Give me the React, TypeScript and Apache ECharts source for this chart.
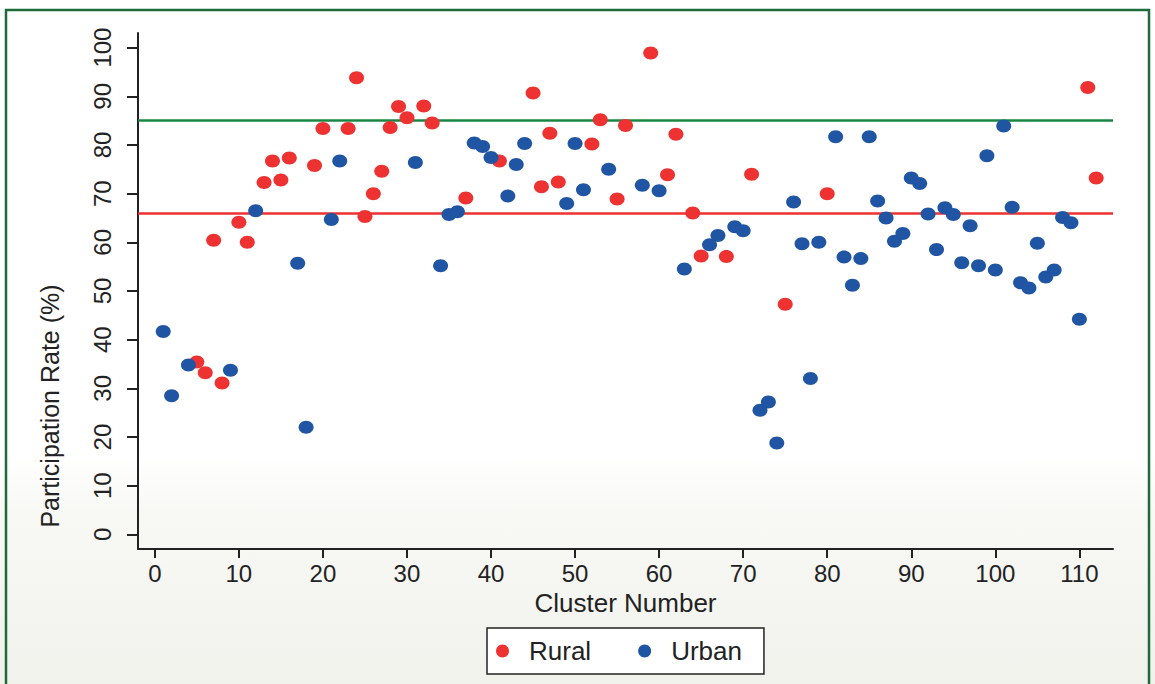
import React, { useEffect, useRef } from "react";
import * as echarts from "echarts";

// Participation rate (%) by cluster, split by rural / urban clusters
const ruralClusters = [5, 6, 7, 8, 10, 11, 13, 14, 15, 16, 19, 20, 23, 24, 25, 26, 27, 28, 29, 30, 32, 33, 37, 41, 45, 46, 47, 48, 52, 53, 55, 56, 59, 61, 62, 64, 65, 68, 71, 75, 80, 111, 112];
const ruralRates = [35.4, 33.2, 60.4, 31.1, 64.1, 60.0, 72.3, 76.7, 72.8, 77.3, 75.8, 83.4, 83.4, 93.8, 65.3, 70.0, 74.6, 83.6, 87.9, 85.6, 88.0, 84.5, 69.1, 76.7, 90.7, 71.4, 82.4, 72.4, 80.2, 85.2, 68.9, 84.0, 98.9, 73.9, 82.2, 66.0, 57.2, 57.1, 74.0, 47.3, 70.0, 91.8, 73.2];

const urbanClusters = [1, 2, 4, 9, 12, 17, 18, 21, 22, 31, 34, 35, 36, 38, 39, 40, 42, 43, 44, 49, 50, 51, 54, 58, 60, 63, 66, 67, 69, 70, 72, 73, 74, 76, 77, 78, 79, 81, 82, 83, 84, 85, 86, 87, 88, 89, 90, 91, 92, 93, 94, 95, 96, 97, 98, 99, 100, 101, 102, 103, 104, 105, 106, 107, 108, 109, 110];
const urbanRates = [41.7, 28.5, 34.8, 33.7, 66.5, 55.7, 22.0, 64.7, 76.7, 76.4, 55.2, 65.7, 66.3, 80.4, 79.7, 77.4, 69.5, 76.0, 80.3, 68.0, 80.3, 70.8, 75.0, 71.7, 70.6, 54.5, 59.5, 61.4, 63.2, 62.4, 25.5, 27.2, 18.8, 68.3, 59.7, 32.0, 60.0, 81.7, 57.0, 51.2, 56.7, 81.7, 68.5, 65.0, 60.2, 61.8, 73.2, 72.1, 65.8, 58.5, 67.1, 65.7, 55.8, 63.4, 55.2, 77.8, 54.3, 83.9, 67.2, 51.7, 50.6, 59.8, 52.9, 54.3, 65.1, 64.0, 44.2];

// Reference levels
const targetRate = 85;
const averageRate = 66;

const xTicks = [0, 10, 20, 30, 40, 50, 60, 70, 80, 90, 100, 110];
const yTicks = [0, 10, 20, 30, 40, 50, 60, 70, 80, 90, 100];

const RED = "#ee3131";
const BLUE = "#1f55a3";
const GREEN = "#1b8643";
const INK = "#222222";
const FONT = "'Liberation Sans', Arial, Helvetica, sans-serif";

// Unit circle as a path, so the marker can be stretched into an ellipse
const ELLIPSE =
  "path://M1,0C1,0.552 0.552,1 0,1C-0.552,1 -1,0.552 -1,0C-1,-0.552 -0.552,-1 0,-1C0.552,-1 1,-0.552 1,0Z";

export default function App() {
  const ref = useRef<HTMLDivElement | null>(null);

  useEffect(() => {
    if (!ref.current) return;
    const chart = echarts.init(ref.current, undefined, { renderer: "svg" });

    const ruralData = ruralClusters.map((c, i) => [c, ruralRates[i]]);
    const urbanData = urbanClusters.map((c, i) => [c, urbanRates[i]]);

    chart.setOption({
      animation: false,
      backgroundColor: {
        type: "linear",
        x: 0,
        y: 0,
        x2: 0,
        y2: 1,
        colorStops: [
          { offset: 0, color: "#ffffff" },
          { offset: 0.66, color: "#ffffff" },
          { offset: 0.75, color: "#f8f8f5" },
          { offset: 1, color: "#f1f2ec" },
        ],
      },
      textStyle: { fontFamily: FONT, color: INK },
      graphic: [
        {
          type: "rect",
          silent: true,
          shape: { x: 6, y: 10, width: 1143, height: 700 },
          style: { fill: "none", stroke: "#1d6b3a", lineWidth: 2.5 },
        },
      ],
      grid: { left: 138, right: 42, top: 33, bottom: 135, containLabel: false },
      legend: {
        data: ["Rural", "Urban"],
        left: 487,
        top: 628,
        orient: "horizontal",
        icon: ELLIPSE,
        itemWidth: 15,
        itemHeight: 13,
        itemGap: 47,
        padding: [10, 22, 10, 9],
        backgroundColor: "#ffffff",
        borderColor: INK,
        borderWidth: 1.5,
        borderRadius: 0,
        textStyle: { fontSize: 26, color: INK, fontFamily: FONT, padding: [0, 0, 0, 14] },
      },
      xAxis: {
        type: "value",
        min: -2,
        max: 114,
        name: "Cluster Number",
        nameLocation: "middle",
        nameGap: 33,
        nameTextStyle: { fontSize: 26, color: INK, fontFamily: FONT },
        axisLine: { show: true, onZero: false, lineStyle: { color: INK, width: 2 } },
        axisTick: { show: true, length: 9, customValues: xTicks, lineStyle: { color: INK, width: 2 } },
        axisLabel: { customValues: xTicks, fontSize: 24, margin: 12, color: INK, fontFamily: FONT },
        splitLine: { show: false },
      },
      yAxis: {
        type: "value",
        min: -3,
        max: 103,
        name: "Participation Rate (%)",
        nameLocation: "middle",
        nameGap: 76,
        // text sits toward the lower part of the axis
        nameTextStyle: { fontSize: 25, color: INK, fontFamily: FONT, padding: [0, 230, 0, 0] },
        axisLine: { show: true, onZero: false, lineStyle: { color: INK, width: 2 } },
        axisTick: { show: true, length: 11, customValues: yTicks, lineStyle: { color: INK, width: 2 } },
        axisLabel: { customValues: yTicks, rotate: 90, fontSize: 24, margin: 24, color: INK, fontFamily: FONT },
        splitLine: { show: false },
      },
      series: [
        {
          name: "Rural",
          type: "scatter",
          data: ruralData,
          symbol: ELLIPSE,
          symbolSize: [15, 13],
          itemStyle: { color: RED, opacity: 1 },
          markLine: {
            silent: true,
            z: 1,
            symbol: ["none", "none"],
            label: { show: false },
            emphasis: { disabled: true },
            data: [
              { yAxis: targetRate, lineStyle: { color: GREEN, width: 2.5, type: "solid" } },
              { yAxis: averageRate, lineStyle: { color: RED, width: 2.5, type: "solid" } },
            ],
          },
        },
        {
          name: "Urban",
          type: "scatter",
          data: urbanData,
          symbol: ELLIPSE,
          symbolSize: [15, 13],
          itemStyle: { color: BLUE, opacity: 1 },
        },
      ],
    });

    return () => chart.dispose();
  }, []);

  return (
    <div
      ref={ref}
      style={{ position: "fixed", left: 0, top: 0, width: 1155, height: 684 }}
    />
  );
}
